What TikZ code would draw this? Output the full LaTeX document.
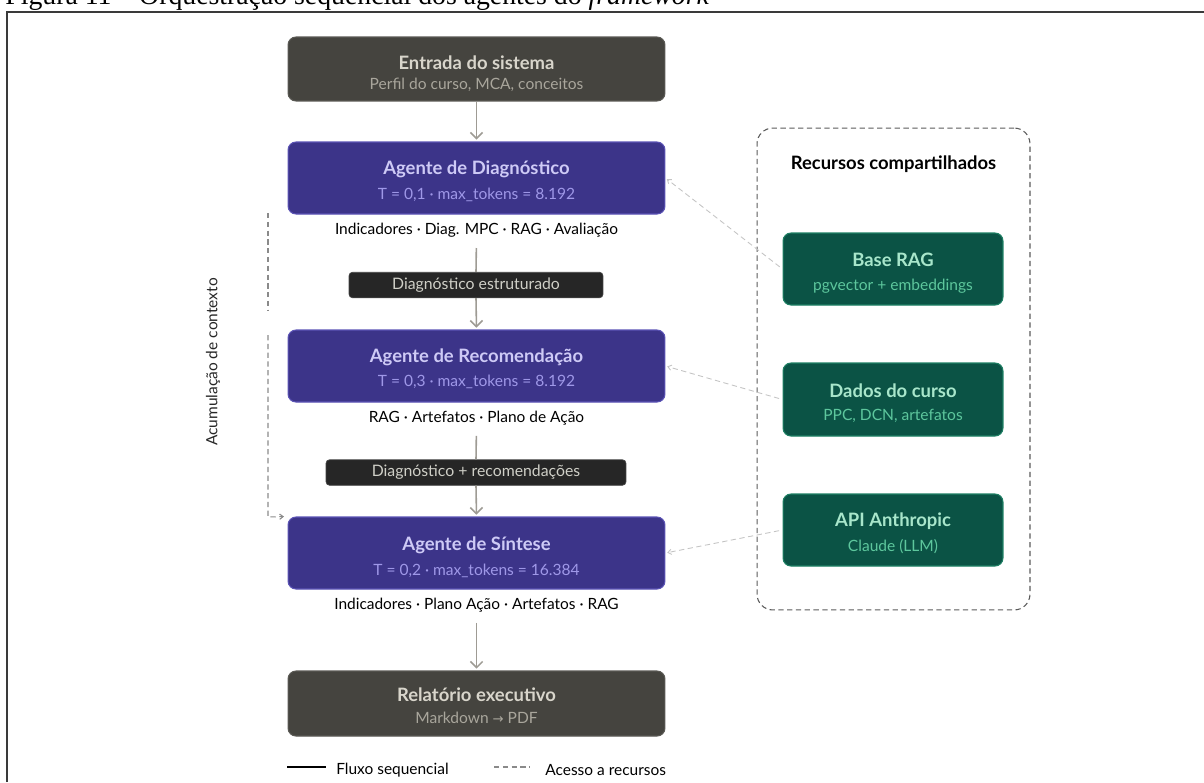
\documentclass[tikz,border=0pt]{standalone}
\usepackage{fontspec}
\setmainfont{Lato}
\newfontfamily\capfont{Liberation Serif}
\newfontfamily\symfont{DejaVu Sans}
\usetikzlibrary{arrows.meta}

\definecolor{grayfill}{HTML}{45443F}
\definecolor{grayedge}{HTML}{5A5954}
\definecolor{graytitle}{HTML}{D8D5CB}
\definecolor{graysub}{HTML}{A9A69C}
\definecolor{agentfill}{HTML}{3C3489}
\definecolor{agentedge}{HTML}{5B53B5}
\definecolor{agenttitle}{HTML}{CECAF6}
\definecolor{agentsub}{HTML}{9F98E8}
\definecolor{tagfill}{HTML}{262626}
\definecolor{tagedge}{HTML}{444444}
\definecolor{tagtext}{HTML}{CFCFC7}
\definecolor{resfill}{HTML}{0B5345}
\definecolor{resedge}{HTML}{1E8064}
\definecolor{restitle}{HTML}{A8E6CB}
\definecolor{ressub}{HTML}{5DC79D}
\definecolor{arrowcol}{HTML}{9E9B94}
\definecolor{accesscol}{HTML}{C4C4C4}
\definecolor{ctxcol}{HTML}{8A8A8A}
\definecolor{rescont}{HTML}{5A5A5A}
\definecolor{framecol}{HTML}{3A3A3A}

\tikzset{
  greybox/.style={rounded corners=4.5pt, minimum width=7.54cm, minimum height=1.28cm,
    fill=grayfill, draw=grayedge, line width=0.6pt, inner sep=0pt},
  agentbox/.style={rounded corners=4.5pt, minimum width=7.54cm, minimum height=1.44cm,
    fill=agentfill, draw=agentedge, line width=0.6pt, inner sep=0pt},
  resbox/.style={rounded corners=4.5pt, minimum width=4.4cm, minimum height=1.44cm,
    fill=resfill, draw=resedge, line width=0.6pt, inner sep=0pt},
  tagbox/.style={rounded corners=2pt, minimum height=0.51cm, fill=tagfill, draw=tagedge,
    line width=0.4pt, text=tagtext, inner sep=0pt, font=\fontsize{9}{10}\selectfont},
  ttl/.style={inner sep=0pt, font=\bfseries\fontsize{10.5}{12}\selectfont},
  sub/.style={inner sep=0pt, font=\fontsize{8.85}{10}\selectfont},
  body/.style={inner sep=0pt, font=\fontsize{8.8}{10}\selectfont, text=black},
  flow/.style={draw=arrowcol, line width=0.9pt, -{Straight Barb[length=3.5pt,width=7pt]}},
  flowline/.style={draw=arrowcol, line width=0.9pt},
  access/.style={draw=accesscol, line width=0.5pt, dash pattern=on 3pt off 2pt,
    -{Straight Barb[length=2pt,width=3pt]}},
  ctx/.style={draw=ctxcol, line width=0.6pt, dash pattern=on 3pt off 2pt},
}

\begin{document}
\begin{tikzpicture}[x=0.02cm,y=-0.02cm]
\useasboundingbox (0,0) rectangle (1204,782);
\clip (0,0) rectangle (1204,782);

% caption and frame of the figure
\node[anchor=base west, inner sep=0pt, font=\capfont\fontsize{15.8}{18}\selectfont] (caption) at (5,4)
  {Figura 11 – Orquestração sequencial dos agentes do \textit{framework}};
\draw[framecol, line width=0.9pt] (7,782) -- (7,12) -- (1204,12);

% main pipeline
\node[greybox] (inp) at (476.5,69) {};
\node[ttl, text=graytitle] (inpT) at (476.5,63) {Entrada do sistema};
\node[sub, text=graysub] (inpS) at (476.5,85) {Perfil do curso, MCA, conceitos};

\node[agentbox] (diag) at (476.5,178) {};
\node[ttl, text=agenttitle] (diagT) at (476.5,169) {Agente de Diagnóstico};
\node[sub, text=agentsub] (diagS) at (476.5,195) {T = 0,1 · max\_tokens = 8.192};
\node[body] (diagOut) at (476.5,230) {Indicadores · Diag. MPC · RAG · Avaliação};

\node[tagbox, minimum width=5.08cm] (tag1) at (476,285) {Diagnóstico estruturado};

\node[agentbox] (recom) at (476.5,366) {};
\node[ttl, text=agenttitle] (recomT) at (476.5,357) {Agente de Recomendação};
\node[sub, text=agentsub] (recomS) at (476.5,382) {T = 0,3 · max\_tokens = 8.192};
\node[body] (recomOut) at (476.5,418) {RAG · Artefatos · Plano de Ação};

\node[tagbox, minimum width=6cm] (tag2) at (476,472.5) {Diagnóstico + recomendações};

\node[agentbox] (sint) at (476.5,553) {};
\node[ttl, text=agenttitle] (sintT) at (476.5,545) {Agente de Síntese};
\node[sub, text=agentsub] (sintS) at (476.5,571) {T = 0,2 · max\_tokens = 16.384};
\node[body] (sintOut) at (476.5,605) {Indicadores · Plano Ação · Artefatos · RAG};

\node[greybox, minimum height=1.3cm] (rep) at (476.5,703.5) {};
\node[ttl, text=graytitle] (repT) at (476.5,695) {Relatório executivo};
\node[sub, text=graysub] (repS) at (476.5,718) {Markdown {\symfont\fontsize{7.5}{10}\selectfont →} PDF};

% sequential flow
\draw[flow, shorten >=1pt] (inp.south) -- (diag.north);
\draw[flowline, shorten <=6pt] (diagOut.south) -- (tag1.north);
\draw[flow, shorten >=1pt] (tag1.south) -- (recom.north);
\draw[flowline, shorten <=6pt] (recomOut.south) -- (tag2.north);
\draw[flow, shorten >=1pt] (tag2.south) -- (sint.north);
\draw[flow, shorten <=6pt, shorten >=1pt] (sintOut.south) -- (rep.north);

% context accumulation bracket
\coordinate (ctxA) at (268,213);
\coordinate (ctxB) at (268,310);
\coordinate (ctxC) at (268,335);
\coordinate (ctxD) at (268,517);
\draw[ctx] (ctxA) -- (ctxB);
\draw[ctx, -{Straight Barb[length=2pt,width=3pt]}, shorten >=2pt] (ctxC) -- (ctxD) -- (sint.north west);
\node[body, rotate=90, text=black!85] (ctxL) at (213,362) {Acumulação de contexto};

% shared resources
\node[draw=rescont, dash pattern=on 3pt off 2pt, rounded corners=9pt, line width=0.6pt,
  minimum width=5.46cm, minimum height=9.64cm, inner sep=0pt] (shared) at (893.5,369) {};
\node[inner sep=0pt, font=\bfseries\fontsize{10.5}{12}\selectfont] (sharedT) at (893.5,164) {Recursos compartilhados};

\node[resbox] (rag) at (893,269) {};
\node[ttl, text=restitle] (ragT) at (893,260) {Base RAG};
\node[sub, text=ressub] (ragS) at (893,286) {pgvector + embeddings};

\node[resbox, minimum height=1.46cm] (data) at (893,399.5) {};
\node[ttl, text=restitle] (dataT) at (893,391) {Dados do curso};
\node[sub, text=ressub] (dataS) at (893,416) {PPC, DCN, artefatos};

\node[resbox] (api) at (893,530) {};
\node[ttl, text=restitle] (apiT) at (893,521) {API Anthropic};
\node[sub, text=ressub] (apiS) at (893,547) {Claude (LLM)};

% resource access
\draw[access, shorten <=2pt, shorten >=1pt] (rag.west) -- (diag.east);
\draw[access, shorten <=2pt, shorten >=1pt] (data.west) -- (recom.east);
\draw[access, shorten <=2pt, shorten >=1pt] (api.west) -- (sint.east);

% legend
\coordinate (lgA) at (287,767);
\coordinate (lgB) at (326,767);
\coordinate (lgC) at (494,767);
\coordinate (lgD) at (530,767);
\draw[black, line width=0.9pt] (lgA) -- (lgB);
\node[body, anchor=west] (lgFlow) at (336,770) {Fluxo sequencial};
\draw[ctxcol, line width=0.6pt, dash pattern=on 3pt off 2pt] (lgC) -- (lgD);
\node[body, anchor=west] (lgAccess) at (545,770) {Acesso a recursos};
\end{tikzpicture}
\end{document}
